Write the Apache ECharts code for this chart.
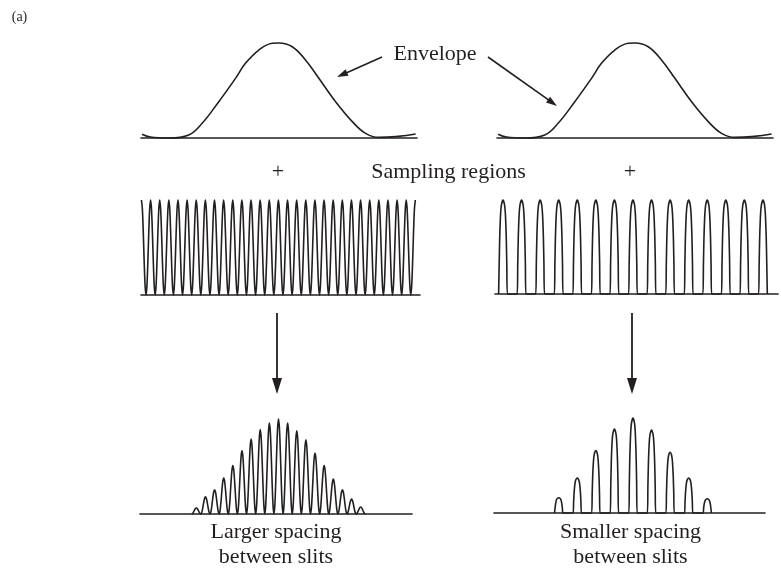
<!DOCTYPE html>
<html><head><meta charset="utf-8">
<script src="https://cdn.jsdelivr.net/npm/echarts@6/dist/echarts.min.js"></script>
<style>html,body{margin:0;padding:0;background:#fff}#c{width:781px;height:573px}</style>
</head><body><div id="c"></div>
<script>
// ---- data ----
// Envelope (position in fine-period units, relative intensity)
var envX = [-14.98, -14.07, -12.07, -9.88, -8.41, -6.59, -4.76, -3.67, -2.21, -0.74, 0, 1.45, 2.9, 4.36, 6.19, 8.02, 9.47, 10.93, 12.76, 14.95];
var envY = [0.039, 0.01, 0.0, 0.032, 0.155, 0.382, 0.628, 0.786, 0.926, 0.997, 1.0, 0.961, 0.821, 0.628, 0.382, 0.172, 0.049, 0.007, 0.014, 0.042];
// Sampling regions, larger spacing (left): peak positions and heights
var sampLeftPeaks = [-15,-14,-13,-12,-11,-10,-9,-8,-7,-6,-5,-4,-3,-2,-1,0,1,2,3,4,5,6,7,8,9,10,11,12,13,14,15];
var sampLeftHeights = [1,1,1,1,1,1,1,1,1,1,1,1,1,1,1,1,1,1,1,1,1,1,1,1,1,1,1,1,1,1,1];
var sampLeftSpan = [-15, 15];
// Sampling regions, smaller spacing (right): narrow peaks
var sampRightPeaks = [-14,-12,-10,-8,-6,-4,-2,0,2,4,6,8,10,12,14];
var sampRightHeights = [1,1,1,1,1,1,1,1,1,1,1,1,1,1,1];
// Resulting patterns
var fringeLeftPeaks = [-9,-8,-7,-6,-5,-4,-3,-2,-1,0,1,2,3,4,5,6,7,8,9];
var fringeLeftHeights = [0.063,0.18,0.256,0.379,0.509,0.667,0.79,0.888,0.958,1.0,0.958,0.877,0.782,0.642,0.509,0.368,0.256,0.158,0.074];
var fringeRightPeaks = [-8,-6,-4,-2,0,2,4,6,8];
var fringeRightHeights = [0.161,0.367,0.657,0.885,1.0,0.874,0.64,0.367,0.15];
// touching-lobe profile over one period (offset, fraction of height)
var lobeDx = [-0.5,-0.4,-0.3,-0.2,-0.1,0,0.1,0.2,0.3,0.4,0.5];
var lobeH  = [0,0.095,0.345,0.655,0.905,1,0.905,0.655,0.345,0.095,0];
// narrow separated peak profile (fraction of half-width, fraction of height)
var profDx = [-1,-0.88,-0.75,-0.55,-0.35,0,0.35,0.55,0.75,0.88,1];
var profH  = [0,0.3,0.6,0.85,0.95,1,0.95,0.85,0.6,0.3,0];
// labels
var labels = {
  tag: '(a)', envelope: 'Envelope', sampling: 'Sampling regions', plus: '+',
  larger: ['Larger spacing', 'between slits'], smaller: ['Smaller spacing', 'between slits']
};

// ---- build series tables ----
function zip(xs, ys){ return xs.map(function(x,i){ return [x, ys[i]]; }); }
function shaped(peaks, heights, dxs, hs, halfW, span){
  var pts = [];
  peaks.forEach(function(p,i){
    dxs.forEach(function(d,j){
      var x = p + d*halfW, y = heights[i]*hs[j];
      if (span && (x < span[0] - 1e-6 || x > span[1] + 1e-6)) return;
      var last = pts[pts.length-1];
      if (last && Math.abs(last[0]-x) < 1e-6) { last[1] = Math.max(last[1], y); return; }
      pts.push([x, y]);
    });
  });
  return pts;
}

var INK = '#231f20';
var FONT = '"Liberation Serif", "Times New Roman", serif';

var gridsPx = [
  {left:141, top:43,  width:276, height:95},
  {left:497, top:43,  width:276, height:95},
  {left:141, top:200, width:279, height:95},
  {left:495, top:200, width:283, height:94},
  {left:140, top:419, width:272, height:95},
  {left:494, top:418, width:271, height:95}
];
var xr = [[-15.1,15.1],[-15.1,15.1],[-15.05,15.51],[-14.86,15.62],[-15.17,14.62],[-14.97,14.22]];

var option = {
  animation:false,
  backgroundColor:'#fff',
  grid: gridsPx,
  xAxis: xr.map(function(r,i){ return {
    type:'value', gridIndex:i, min:r[0], max:r[1],
    axisLine:{show:true, onZero:true, lineStyle:{color:INK, width:1.6}},
    axisTick:{show:false}, axisLabel:{show:false}, splitLine:{show:false}
  };}),
  yAxis: xr.map(function(r,i){ return {type:'value', gridIndex:i, min:0, max:1, show:false}; }),
  series: [
    {data: zip(envX, envY), xAxisIndex:0, yAxisIndex:0, smooth:0.4},
    {data: zip(envX, envY), xAxisIndex:1, yAxisIndex:1, smooth:0.4},
    {data: shaped(sampLeftPeaks, sampLeftHeights, lobeDx, lobeH, 1, sampLeftSpan), xAxisIndex:2, yAxisIndex:2, smooth:0.3},
    {data: shaped(sampRightPeaks, sampRightHeights, profDx, profH, 0.47), xAxisIndex:3, yAxisIndex:3, smooth:0.2},
    {data: shaped(fringeLeftPeaks, fringeLeftHeights, lobeDx, lobeH, 1), xAxisIndex:4, yAxisIndex:4, smooth:0.3},
    {data: shaped(fringeRightPeaks, fringeRightHeights, profDx, profH, 0.45), xAxisIndex:5, yAxisIndex:5, smooth:0.2}
  ].map(function(s){ return Object.assign({type:'line', showSymbol:false, symbol:'none', clip:false, silent:true,
      lineStyle:{color:INK, width:1.6}}, s); }),
  graphic: []
};

function arrow(x1,y1,x2,y2,len,w,lw){
  var dx=x2-x1, dy=y2-y1, L=Math.sqrt(dx*dx+dy*dy), ux=dx/L, uy=dy/L;
  var bx=x2-ux*len, by=y2-uy*len;
  return [
    {type:'line', shape:{x1:x1,y1:y1,x2:bx+ux*1,y2:by+uy*1}, style:{stroke:INK, lineWidth:lw}, silent:true},
    {type:'polygon', shape:{points:[[x2,y2],[bx-uy*w/2,by+ux*w/2],[bx+uy*w/2,by-ux*w/2]]}, style:{fill:INK}, silent:true}
  ];
}
function txt(s, x, y, size){
  return {type:'text', x:x, y:y, silent:true,
    style:{text:s, font: size+'px '+FONT, fill:INK, textAlign:'center', textVerticalAlign:'middle', align:'center', verticalAlign:'middle'}};
}
var g = option.graphic;
g.push.apply(g, arrow(382,57,337,77,11,7,1.6));
g.push.apply(g, arrow(488,57,557,106,11,7,1.6));
g.push.apply(g, arrow(277,313,277,394,16,10,1.8));
g.push.apply(g, arrow(632,313,632,394,16,10,1.8));
g.push(txt(labels.tag, 19.5, 17, 14));
g.push(txt(labels.envelope, 435, 54.5, 22));
g.push(txt(labels.sampling, 448.5, 172, 22));
g.push(txt(labels.plus, 278, 172, 22));
g.push(txt(labels.plus, 630, 172, 22));
g.push(txt(labels.larger[0], 276, 532, 22));
g.push(txt(labels.larger[1], 276, 557, 22));
g.push(txt(labels.smaller[0], 630.5, 532, 22));
g.push(txt(labels.smaller[1], 630.5, 557, 22));

var chart = echarts.init(document.getElementById('c'), null, {renderer:'canvas'});
chart.setOption(option);
</script>
</body></html>
